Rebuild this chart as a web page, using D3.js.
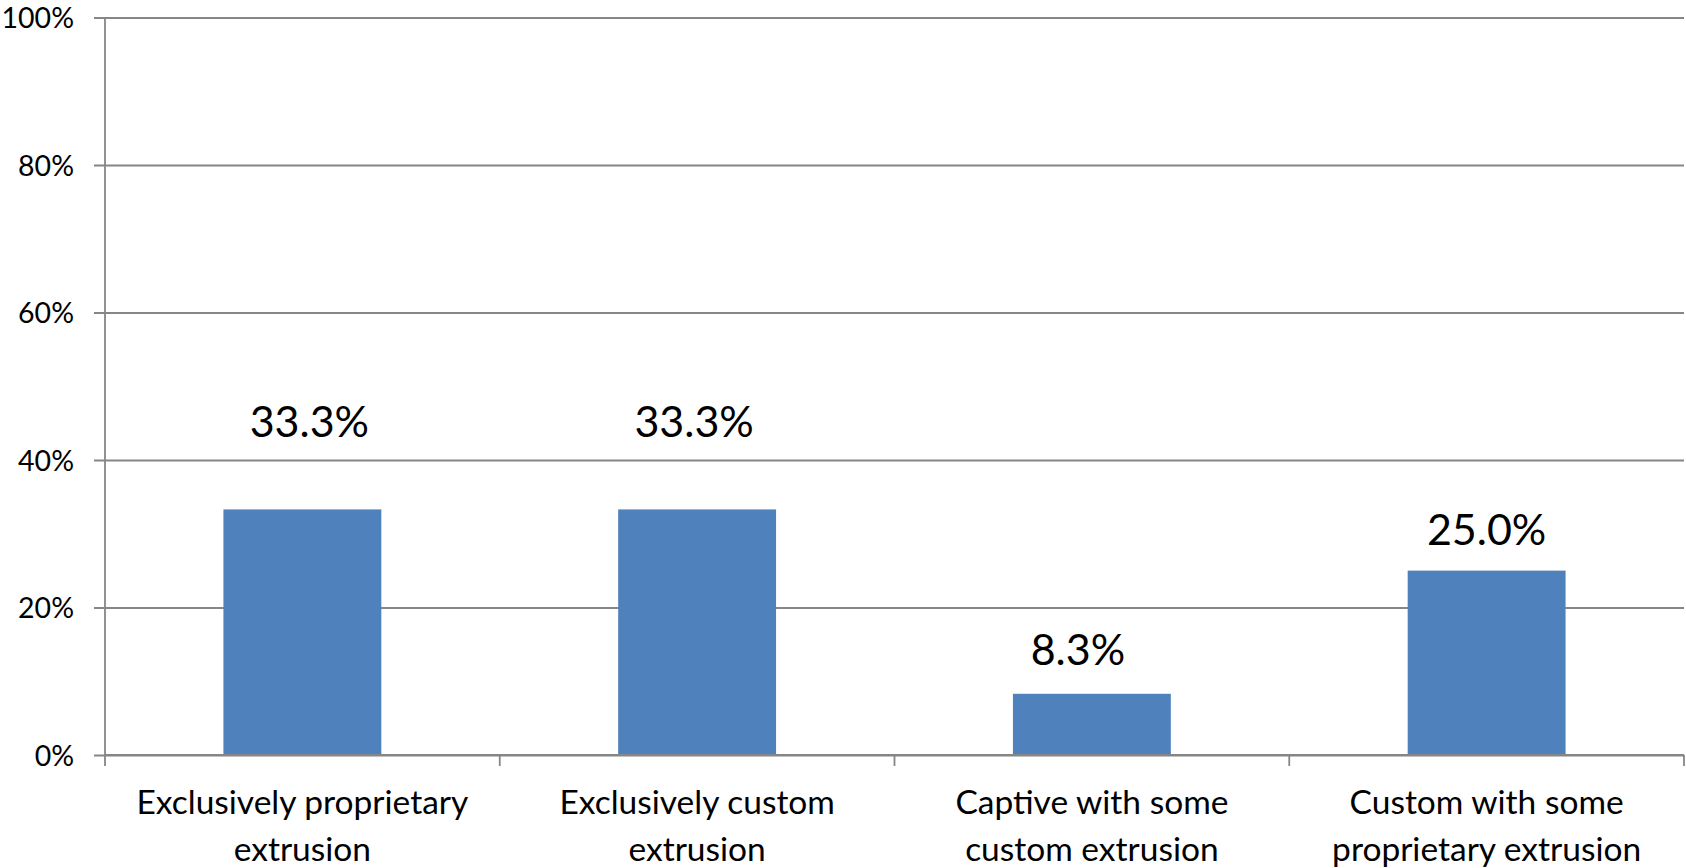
<!DOCTYPE html>
<html>
<head>
<meta charset="utf-8">
<script src="https://cdn.jsdelivr.net/npm/d3@7"></script>
<style>
  html, body { margin: 0; padding: 0; background: #ffffff; }
  svg { display: block; }
  text { font-family: Lato, "Open Sans", sans-serif; fill: #000; }
</style>
</head>
<body>
<svg id="chart" width="1686" height="868"></svg>
<script>
// ---- data ----
const categories = [
  ["Exclusively proprietary", "extrusion"],
  ["Exclusively custom", "extrusion"],
  ["Captive with some", "custom extrusion"],
  ["Custom with some", "proprietary extrusion"]
];
const values = [0.333, 0.333, 0.083, 0.250];
const valueLabels = ["33.3%", "33.3%", "8.3%", "25.0%"];
const yTicks = [0, 0.2, 0.4, 0.6, 0.8, 1.0];
const yTickLabels = ["0%", "20%", "40%", "60%", "80%", "100%"];

// ---- layout ----
const plotLeft = 105, plotRight = 1684, plotTop = 17.5, plotBottom = 755;
const labelRaise = [72.7, 72.7, 28.8, 25.6];
const labelShift = [7, -3, -14, 0];
const axisColor = "#868686";
const barColor = "#4F81BD";

const svg = d3.select("#chart");
const keys = categories.map((c, i) => i);

const x = d3.scaleBand().domain(keys).range([plotLeft, plotRight])
  .paddingInner(0.6).paddingOuter(0.3);
const y = d3.scaleLinear().domain([0, 1]).range([plotBottom, plotTop]);

// gridlines + y ticks
const yAxis = d3.axisLeft(y).tickValues(yTicks)
  .tickSize(-(plotRight - plotLeft)).tickFormat((d, i) => yTickLabels[i]).tickPadding(0);
const gy = svg.append("g").attr("transform", `translate(${plotLeft},0)`).call(yAxis);
gy.select(".domain").remove();
gy.selectAll(".tick line").attr("x1", -11).attr("stroke", axisColor).attr("stroke-width", 1.8);
gy.selectAll(".tick text").attr("x", -31).attr("dy", "0.36em")
  .style("font-size", "28.5px").style("font-family", "Lato, sans-serif").attr("fill", "#000");

// bars
svg.append("g").selectAll("rect").data(values).join("rect")
  .attr("x", (d, i) => x(i))
  .attr("width", x.bandwidth())
  .attr("y", d => y(d))
  .attr("height", d => y(0) - y(d))
  .attr("fill", barColor);

// x axis line + category boundary ticks
const step = x.step();
const bounds = d3.range(categories.length + 1).map(i => plotLeft + i * step);
const gx = svg.append("g");
gx.append("line").attr("x1", plotLeft).attr("x2", plotRight).attr("y1", y(0)).attr("y2", y(0))
  .attr("stroke", axisColor).attr("stroke-width", 1.8);
gx.selectAll("line.tk").data(bounds).join("line").attr("class", "tk")
  .attr("x1", d => d).attr("x2", d => d).attr("y1", y(0)).attr("y2", y(0) + 11)
  .attr("stroke", axisColor).attr("stroke-width", 1.8);
// y axis line
svg.append("line").attr("x1", plotLeft).attr("x2", plotLeft).attr("y1", y(1)).attr("y2", y(0))
  .attr("stroke", axisColor).attr("stroke-width", 1.8);

// category labels
const cl = svg.append("g").selectAll("text").data(categories).join("text")
  .attr("text-anchor", "middle")
  .style("font-size", "33.5px");
cl.each(function (d, i) {
  const t = d3.select(this);
  const cx = x(i) + x.bandwidth() / 2;
  d.forEach((line, j) => {
    t.append("tspan").attr("x", cx).attr("y", 814 + j * 46.5).text(line);
  });
});

// value labels
svg.append("g").selectAll("text").data(values).join("text")
  .attr("text-anchor", "middle")
  .attr("x", (d, i) => x(i) + x.bandwidth() / 2 + labelShift[i])
  .attr("y", (d, i) => y(d) - labelRaise[i])
  .style("font-size", "43px")
  .text((d, i) => valueLabels[i]);
</script>
</body>
</html>
